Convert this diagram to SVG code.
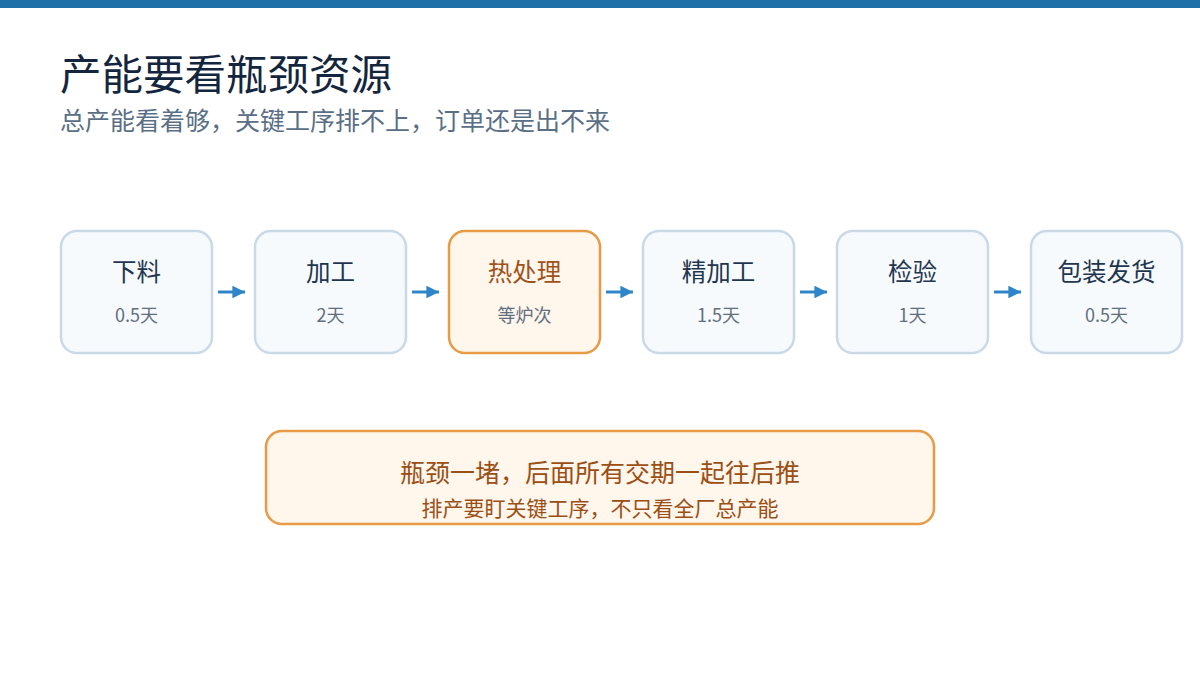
<svg xmlns="http://www.w3.org/2000/svg" width="1200" height="675" viewBox="0 0 1200 675">
<defs>
<marker id="ah" viewBox="0 0 10 10" refX="10" refY="5" markerWidth="4.2" markerHeight="4.2" markerUnits="strokeWidth" orient="auto">
<path d="M0,0 L10,5 L0,10 z" fill="#2e86c8"/>
</marker>
</defs>
<style>
text{font-family:"Noto Sans CJK SC","Noto Sans",sans-serif}
.box{fill:#f7fafc;stroke:#c9d9e8;stroke-width:2.5}
.hot{fill:#fff6ec;stroke:#e89a45;stroke-width:2.5}
.lbl{font-size:24.5px;fill:#1f3650;text-anchor:middle}
.sub{font-size:18px;fill:#5f6f80;text-anchor:middle}
.hlbl{font-size:24.5px;fill:#a0521b;text-anchor:middle}
.conn{stroke:#2e86c8;stroke-width:3;fill:none;marker-end:url(#ah)}
</style>
<rect x="0" y="0" width="1200" height="8" fill="#1f6fa8"/>
<text x="60" y="90" font-size="41.5" fill="#14263d">产能要看瓶颈资源</text>
<text x="60" y="130" font-size="25" fill="#5a6f85">总产能看着够，关键工序排不上，订单还是出不来</text>
<g id="n1"><rect class="box" x="61" y="231" width="151" height="122" rx="16"/><text class="lbl" x="136.5" y="281">下料</text><text class="sub" x="136.5" y="322">0.5天</text></g>
<g id="n2"><rect class="box" x="255" y="231" width="151" height="122" rx="16"/><text class="lbl" x="330.5" y="281">加工</text><text class="sub" x="330.5" y="322">2天</text></g>
<g id="n3"><rect class="hot" x="449" y="231" width="151" height="122" rx="16"/><text class="hlbl" x="524.5" y="281">热处理</text><text class="sub" x="524.5" y="322">等炉次</text></g>
<g id="n4"><rect class="box" x="643" y="231" width="151" height="122" rx="16"/><text class="lbl" x="718.5" y="281">精加工</text><text class="sub" x="718.5" y="322">1.5天</text></g>
<g id="n5"><rect class="box" x="837" y="231" width="151" height="122" rx="16"/><text class="lbl" x="912.5" y="281">检验</text><text class="sub" x="912.5" y="322">1天</text></g>
<g id="n6"><rect class="box" x="1031" y="231" width="151" height="122" rx="16"/><text class="lbl" x="1106.5" y="281">包装发货</text><text class="sub" x="1106.5" y="322">0.5天</text></g>
<g id="connectors">
<line class="conn" x1="218" y1="292" x2="245" y2="292"/>
<line class="conn" x1="412" y1="292" x2="439" y2="292"/>
<line class="conn" x1="606" y1="292" x2="633" y2="292"/>
<line class="conn" x1="800" y1="292" x2="827" y2="292"/>
<line class="conn" x1="994" y1="292" x2="1021" y2="292"/>
</g>
<g id="note"><rect class="hot" x="266" y="431" width="668" height="93" rx="16"/><text x="600" y="482" font-size="25" fill="#9c4f15" text-anchor="middle">瓶颈一堵，后面所有交期一起往后推</text><text x="600" y="516" font-size="21" fill="#9c4f15" text-anchor="middle">排产要盯关键工序，不只看全厂总产能</text></g>
</svg>
